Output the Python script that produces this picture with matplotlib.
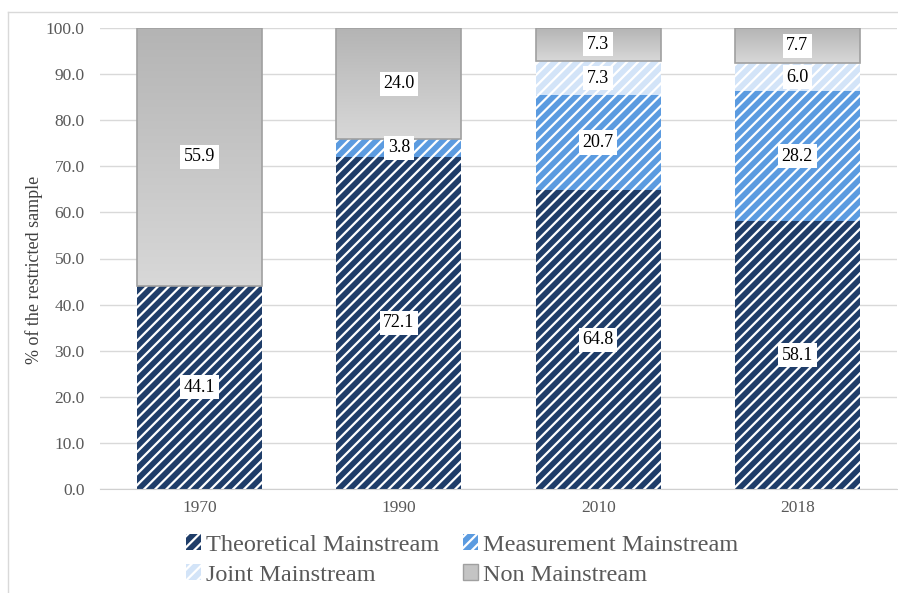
import matplotlib
matplotlib.use("Agg")
import matplotlib.pyplot as plt
import numpy as np
from matplotlib.lines import Line2D
from matplotlib.patches import Patch
from matplotlib.colors import LinearSegmentedColormap

plt.rcParams['font.family'] = ['Liberation Serif', 'DejaVu Serif']
plt.rcParams['hatch.linewidth'] = 1.6

years = ['1970', '1990', '2010', '2018']
theoretical = [44.1, 72.1, 64.8, 58.1]
measurement = [0.0, 3.8, 20.7, 28.2]
joint = [0.0, 0.0, 7.3, 6.0]
non_main = [55.9, 24.0, 7.3, 7.7]
series_names = ['Theoretical Mainstream', 'Measurement Mainstream', 'Joint Mainstream', 'Non Mainstream']
yticks = [0, 10, 20, 30, 40, 50, 60, 70, 80, 90, 100]

W, H = 898, 593
fig = plt.figure(figsize=(W / 100, H / 100), dpi=100)
ax = fig.add_axes([100 / W, 1 - 489 / H, 797 / W, 461 / H])

x = np.arange(len(years))
bw = 0.627

dark = '#1f3d69'
mid = '#5b9be0'
light = '#d3e4f8'

ax.set_ylim(0, 100)
ax.set_xlim(-0.5, 3.5)
ax.set_yticks(yticks)
ax.set_yticklabels([f'{v:.1f}' for v in yticks], fontsize=12.5, color='#595959')
ax.yaxis.grid(True, color='#d9d9d9', linewidth=1)
ax.set_axisbelow(True)
for s in ['top', 'right', 'left']:
    ax.spines[s].set_visible(False)
ax.spines['bottom'].set_color('#d0d0d0')
ax.tick_params(axis='y', length=0, pad=11)
ax.tick_params(axis='x', length=0, pad=8)
ax.set_xticks(x)
ax.set_xticklabels(years, fontsize=12.5, color='#595959')
ax.set_ylabel('% of the restricted sample', fontsize=13, color='#404040')
ax.yaxis.set_label_coords((43 - 100) / 797, (489 - 270) / 461)

bottom = np.zeros(len(years))

def hatched(vals, color, btm):
    return ax.bar(x, vals, bw, bottom=btm, color=color, edgecolor='white',
                  hatch='///', linewidth=0, zorder=2)

hatched(theoretical, dark, bottom)
bottom = bottom + np.array(theoretical)
hatched(measurement, mid, bottom)
bottom = bottom + np.array(measurement)
hatched(joint, light, bottom)
bottom = bottom + np.array(joint)

b4 = ax.bar(x, non_main, bw, bottom=bottom, color='none', edgecolor='#a0a0a0',
            linewidth=1.2, zorder=3)
grad = np.linspace(0, 1, 256).reshape(-1, 1)
cmap = LinearSegmentedColormap.from_list('g', ['#d8d8d8', '#b4b4b4'])
for rect, btm, v in zip(b4, bottom, non_main):
    im = ax.imshow(grad, cmap=cmap, aspect='auto', origin='lower',
                   extent=[rect.get_x(), rect.get_x() + bw, btm, btm + v], zorder=2.5)
    im.set_clip_path(rect)

def label(vals, btms):
    for xi, v, b in zip(x, vals, btms):
        if v > 0:
            ax.text(xi, b + v / 2, f'{v:.1f}', ha='center', va='center', fontsize=13,
                    color='black', zorder=5,
                    bbox=dict(boxstyle='square,pad=0.2', facecolor='white', edgecolor='none'))

cum = np.zeros(len(years))
for vals in [theoretical, measurement, joint, non_main]:
    label(vals, cum)
    cum = cum + np.array(vals)

ax.set_xlim(-0.5, 3.5)
ax.set_ylim(0, 100)

handles = [
    Patch(facecolor=dark, edgecolor='white', hatch='///', linewidth=0),
    Patch(facecolor=mid, edgecolor='white', hatch='///', linewidth=0),
    Patch(facecolor=light, edgecolor='white', hatch='///', linewidth=0),
    Patch(facecolor='#c4c4c4', edgecolor='#a0a0a0', linewidth=1),
]
order = [0, 2, 1, 3]
leg = fig.legend([handles[i] for i in order], [series_names[i] for i in order], ncol=2, loc='center',
                 bbox_to_anchor=(462 / W, 1 - 560 / H), frameon=False,
                 fontsize=17.5, handlelength=0.6, handleheight=0.6, handletextpad=0.2,
                 columnspacing=1.0, labelspacing=0.35)
for t in leg.get_texts():
    t.set_color('#595959')

fig.add_artist(Line2D([8 / W, 8 / W], [0, 1 - 12 / H], color='#d9d9d9', linewidth=1, transform=fig.transFigure))
fig.add_artist(Line2D([8 / W, 1], [1 - 12 / H, 1 - 12 / H], color='#d9d9d9', linewidth=1, transform=fig.transFigure))

fig.savefig('out.png', dpi=100)
